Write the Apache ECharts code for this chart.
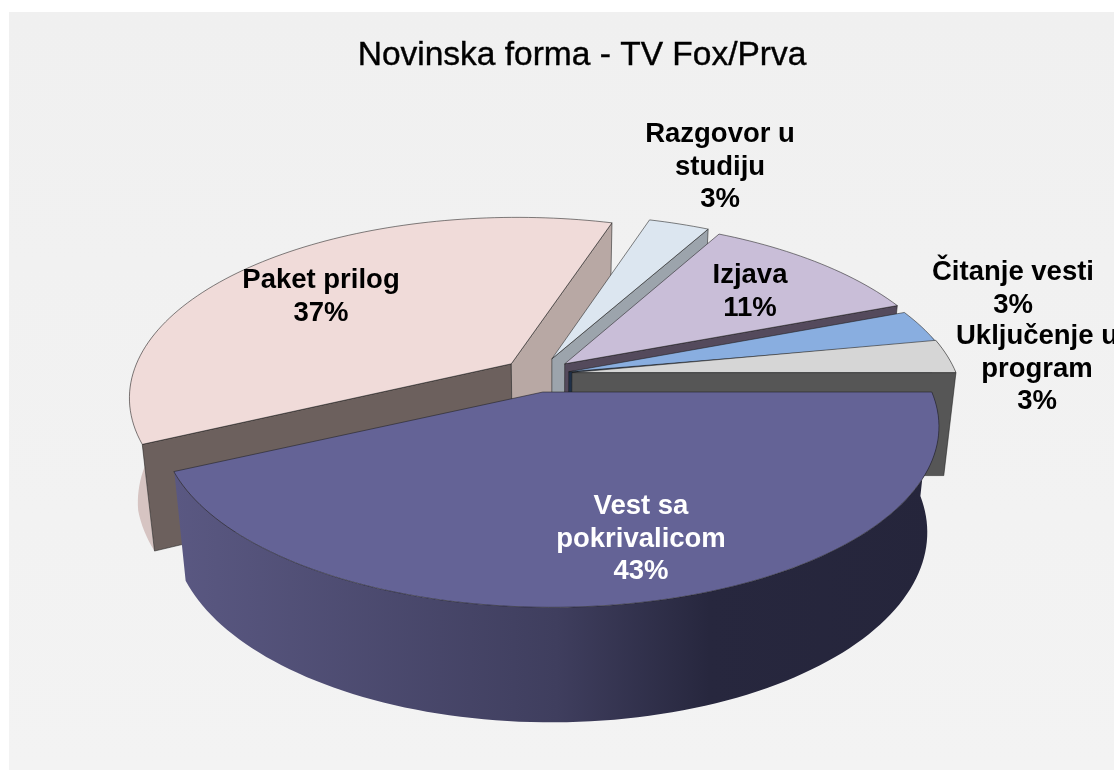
<!DOCTYPE html>
<html><head><meta charset="utf-8">
<style>html,body{margin:0;padding:0;background:#fff}#c{width:1114px;height:774px}</style>
<script src="https://cdn.jsdelivr.net/npm/echarts@6/dist/echarts.min.js"></script>
</head><body><div id="c"></div>
<script>
// data (draw order: back slices first, front slice last)
const categories = ['Paket prilog','Razgovor u\nstudiju','Izjava','Čitanje vesti','Uključenje u\nprogram','Vest sa\npokrivalicom'];
const percents   = [37, 3, 11, 3, 3, 43];
const chartTitle = 'Novinska forma - TV Fox/Prva';

// styles
const topColors   = ['#f0dbd9','#dce6f0','#c9bed8','#89aee0','#d6d6d6','#646396'];
const outerColors = ['#d6c4c2','#a8b0b8','#8a8096','#4a6a90','#8a8a8a',null];
const startColors = ['#6c605d','#9ca4ac','#544a5c','#2a3a55','#565656','#3a3a5a'];
const endColors   = ['#b8a8a4','#9ca4ac','#544a5c','#1f3048','#565656','#3a3a5a'];
const labelColors = ['#000','#000','#000','#000','#000','#fff'];
const labelCenters = [[321,297],[720,167],[750,292],[1013,289],[1037,369],[641,539]];

// 3D projection and per-slice fine adjustment of the exploded position
const VIEW = {cx:535.5, cy:377, a:382, b:175, p:0.187, q:0.018, explode:0.088, shrink:0.97, midX:550, depth:103, depthK:0.051, depthY:372};
const START_ANGLE = 154.8;
const sliceNudge = [[1,-2],[0,-1],[-1,0],[-1,1],[-2,-3],[0,0]];
const tipNudge   = [[0,-1],[3,-3],[5,-3],[2,-2],[5,0],[0,0]];
const wallFlare  = [0.01,0,0,0,0,0];

function uv(u,v){ const d = 1 - VIEW.q*u - VIEW.p*v; return [VIEW.a*u/d, VIEW.b*v/d]; }
function rad(t){ return t*Math.PI/180; }
function rim(apex,t){ const o = uv(Math.cos(rad(t)),Math.sin(rad(t))); return [apex[0]+o[0],apex[1]+o[1]]; }
function down(pt,extra){ const s=VIEW.shrink+(extra||0); return [VIEW.midX+(pt[0]-VIEW.midX)*s, pt[1]+VIEW.depth+(pt[1]-VIEW.depthY)*VIEW.depthK]; }
function arc(apex,t0,t1){ const n=Math.max(2,Math.ceil((t1-t0)/1.5)), out=[]; for(let i=0;i<=n;i++) out.push(rim(apex,t0+(t1-t0)*i/n)); return out; }

const total = percents.reduce((s,v)=>s+v,0);
const vestWall = new echarts.graphic.LinearGradient(0,0,1,0,[
  {offset:0,color:'#5a5882'},{offset:0.5,color:'#3f3e5e'},{offset:0.7,color:'#27273e'},{offset:1,color:'#25253b'}]);

function renderItem(params, api){
  const i = params.dataIndex;
  let t0 = START_ANGLE;
  for(let k=0;k<i;k++) t0 += percents[k]/total*360;
  const t1 = t0 + api.value(0)/total*360;
  const mid = rad((t0+t1)/2);
  const ex = VIEW.explode;
  const apex = [VIEW.cx+VIEW.a*ex*Math.cos(mid)+sliceNudge[i][0], VIEW.cy+VIEW.b*ex*Math.sin(mid)+sliceNudge[i][1]];
  const tip = [apex[0]+tipNudge[i][0], apex[1]+tipNudge[i][1]];
  const children = [];
  const edge = {stroke:'rgba(30,30,30,0.55)', lineWidth:1};
  // outer wall
  const vis = [];
  for(let t=t0;t<=t1+0.001;t+=1.5){ const s=Math.min(t,t1); if(Math.sin(rad(s))>-0.22) vis.push(s); }
  if(vis.length>1){
    const top = vis.map(t=>rim(apex,t));
    const bot = vis.map((t,k)=>down(top[k],wallFlare[i]*Math.min(1,(t-t0)/12))).reverse();
    children.push({type:'polygon',shape:{points:top.concat(bot)},
      style:{fill: outerColors[i]||vestWall, stroke:null}});
  }
  // radial walls
  if(Math.cos(rad(t0))<0){
    const r=rim(apex,t0);
    children.push({type:'polygon',shape:{points:[tip,r,down(r),down(tip)]},style:Object.assign({fill:startColors[i]},edge)});
  }
  if(Math.cos(rad(t1))>0){
    const r=rim(apex,t1);
    children.push({type:'polygon',shape:{points:[tip,r,down(r),down(tip)]},style:Object.assign({fill:endColors[i]},edge)});
  }
  // top face
  children.push({type:'polygon',shape:{points:[tip].concat(arc(apex,t0,t1))},style:Object.assign({fill:topColors[i]},edge)});
  // label
  children.push({type:'text',z2:100,x:labelCenters[i][0],y:labelCenters[i][1],style:{
    text:categories[i]+'\n'+api.value(0)+'%',fill:labelColors[i],font:'bold 27.5px "Liberation Sans", Arial, sans-serif',
    lineHeight:32.5,align:'center',verticalAlign:'middle'}});
  return {type:'group',children};
}

const chart = echarts.init(document.getElementById('c'),null,{renderer:'canvas'});
chart.setOption({
  animation:false,
  backgroundColor:'#ffffff',
  title:{text:chartTitle,left:577,top:34,textAlign:'center',
    textStyle:{fontFamily:'"Liberation Sans", Arial, sans-serif',fontSize:33.5,fontWeight:'normal',color:'#000',textBorderColor:'#000',textBorderWidth:0.4}},
  graphic:[{type:'rect',z:-10,silent:true,shape:{x:9,y:12,width:1105,height:758},
    style:{fill:new echarts.graphic.LinearGradient(0,0,0,1,[{offset:0,color:'#f0f0f0'},{offset:1,color:'#f3f3f3'}])}}],
  series:[{type:'custom',coordinateSystem:'none',renderItem,data:percents.map(v=>[v]),clip:false}]
});
</script></body></html>
